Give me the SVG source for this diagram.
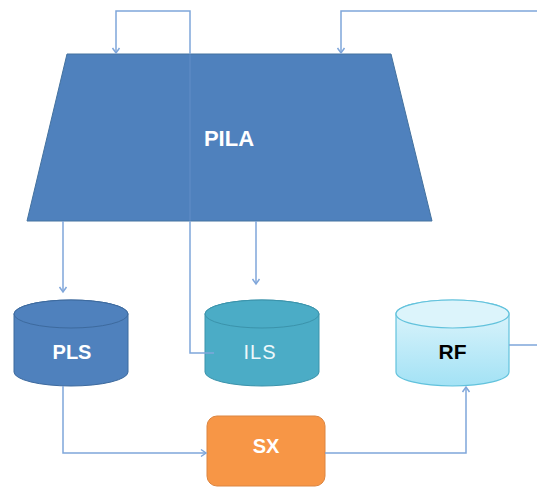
<svg xmlns="http://www.w3.org/2000/svg" width="537" height="487" viewBox="0 0 537 487">
<style>
.c{fill:none;stroke:#7fa6da;stroke-width:1.5}
.t{font-family:"Liberation Sans",Arial,sans-serif;font-weight:bold;text-anchor:middle}
</style>
<defs>
<marker id="a" markerUnits="userSpaceOnUse" markerWidth="10" markerHeight="10" refX="8" refY="5" orient="auto">
<path d="M3,1.5 L8,5 L3,8.5" fill="none" stroke="#7fa6da" stroke-width="1.5"/>
</marker>
<linearGradient id="rf" x1="0" y1="0" x2="0" y2="1">
<stop offset="0" stop-color="#e2f6fc"/>
<stop offset="1" stop-color="#a3e2f5"/>
</linearGradient>
</defs>
<g id="PILA">
<polygon points="67,54 391,54 432,221 27,221" fill="#4f81bd" stroke="#44729f" stroke-width="1"/>
<text class="t" x="229" y="146" font-size="22" fill="#ffffff">PILA</text>
</g>
<g id="PLS">
<path d="M14,314 A57,14 0 0,1 128,314 V372 A57,14 0 0,1 14,372 Z" fill="#4f81bd" stroke="#3d6a9e" stroke-width="1"/>
<ellipse cx="71" cy="314" rx="57" ry="14" fill="#4f81bd" stroke="#3d6a9e" stroke-width="1"/>
<text class="t" x="72" y="359" font-size="20" fill="#ffffff">PLS</text>
</g>
<g id="ILS">
<path d="M205,314 A57,14 0 0,1 319,314 V372 A57,14 0 0,1 205,372 Z" fill="#4bacc6" stroke="#3b93ab" stroke-width="1"/>
<ellipse cx="262" cy="314" rx="57" ry="14" fill="#4bacc6" stroke="#3b93ab" stroke-width="1"/>
<text x="260" y="359" font-family="Liberation Sans,Arial,sans-serif" font-size="20" letter-spacing="1" text-anchor="middle" fill="#eef8fb">ILS</text>
</g>
<g id="RF">
<path d="M396,314 A56.5,14 0 0,1 509,314 V372 A56.5,14 0 0,1 396,372 Z" fill="url(#rf)" stroke="#62c2dc" stroke-width="1.2"/>
<ellipse cx="452.5" cy="314" rx="56.5" ry="14" fill="#dcf4fb" stroke="#62c2dc" stroke-width="1.2"/>
<text class="t" x="452.5" y="359" font-size="21" fill="#000000">RF</text>
</g>
<g id="SX">
<rect x="207" y="416" width="118" height="70" rx="10" fill="#f79646" stroke="#dc8540" stroke-width="1"/>
<text class="t" x="266" y="453" font-size="20" fill="#ffffff">SX</text>
</g>
<g id="connectors">
<path class="c" d="M63,221 V292" marker-end="url(#a)"/>
<path class="c" d="M256,221 V284" marker-end="url(#a)"/>
<path class="c" d="M214,353 H190 V221"/>
<path class="c" d="M190,221 V54" stroke-opacity="0.25"/>
<path class="c" d="M190,54 V11 H116 V53" marker-end="url(#a)"/>
<path class="c" d="M509,345 H545 V11 H341 V53" marker-end="url(#a)"/>
<path class="c" d="M63,386 V453 H206" marker-end="url(#a)"/>
<path class="c" d="M325,453 H466 V387" marker-end="url(#a)"/>
</g>
</svg>
